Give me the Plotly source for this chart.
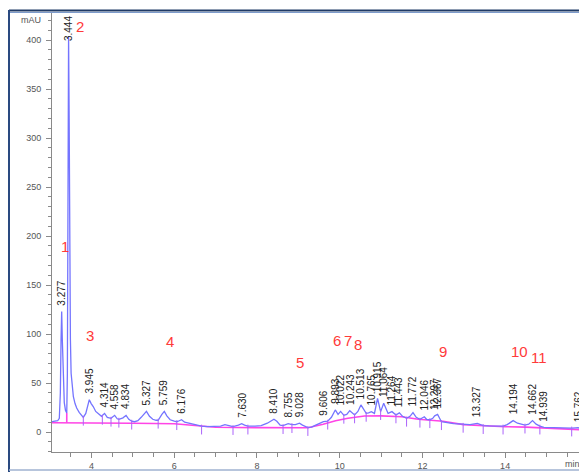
import plotly.graph_objects as go

# ---- chromatogram trace (min, mAU) ----
time_min = [3.043, 3.12, 3.18, 3.22, 3.245, 3.262, 3.277, 3.292, 3.315, 3.34, 3.37, 3.40,
            3.415, 3.43, 3.444, 3.458, 3.472, 3.488, 3.505, 3.53, 3.56, 3.60, 3.64, 3.70,
            3.76, 3.80, 3.86, 3.90, 3.945, 3.99, 4.04, 4.10, 4.16, 4.24, 4.314, 4.38,
            4.47, 4.558, 4.62, 4.66, 4.76, 4.834, 4.90, 4.97, 5.04, 5.12, 5.20, 5.27,
            5.327, 5.40, 5.48, 5.56, 5.61, 5.70, 5.759, 5.82, 5.90, 6.00, 6.06, 6.12,
            6.176, 6.25, 6.35, 6.50, 6.66, 6.80, 7.00, 7.12, 7.225, 7.32, 7.42, 7.55,
            7.63, 7.70, 7.78, 7.95, 8.10, 8.25, 8.35, 8.41, 8.48, 8.56, 8.63, 8.70,
            8.755, 8.845, 8.93, 9.028, 9.10, 9.23, 9.32, 9.42, 9.52, 9.606, 9.71, 9.80,
            9.893, 9.96, 10.022, 10.10, 10.17, 10.243, 10.36, 10.44, 10.513, 10.64, 10.70,
            10.765, 10.84, 10.915, 10.99, 11.064, 11.17, 11.264, 11.36, 11.443, 11.52,
            11.617, 11.70, 11.772, 11.85, 11.94, 12.046, 12.10, 12.18, 12.25, 12.297,
            12.367, 12.46, 12.58, 12.75, 12.87, 12.985, 13.15, 13.327, 13.47, 13.60,
            13.80, 13.95, 14.05, 14.194, 14.30, 14.48, 14.57, 14.662, 14.75, 14.84,
            14.939, 15.05, 15.25, 15.48, 15.61, 15.70, 15.762, 15.85, 15.98]
absorb_mAU = [10.5, 10.8, 11.5, 14, 40, 95, 123, 95, 50, 30, 22, 19.5,
              60, 300, 404, 320, 180, 95, 60, 45, 36, 29, 24.5, 20,
              16.5, 15, 19, 27, 33, 29, 26, 21, 18.5, 16, 19, 15,
              14, 17, 13.5, 13, 14.5, 17, 13, 11, 10.5, 11.5, 15, 19,
              21, 16, 13, 12, 12, 18, 21, 16.5, 12.5, 11, 10.5, 11.5,
              12.5, 10, 9, 7.5, 6, 5.5, 5.5, 6, 7.6, 6.5, 5.5, 7,
              8.5, 7, 6, 6, 6.5, 9, 12, 13, 11, 7, 6.5, 7.5,
              8.5, 7.5, 7.5, 9, 7, 4.5, 5, 7, 8.5, 10.5, 11, 15,
              22.5, 18, 21, 17, 18, 21.8, 17.4, 21, 27.6, 19, 19.5,
              20.8, 19, 34.4, 20.8, 29.3, 19, 20.8, 17.4, 19.5, 16,
              14, 16, 19.8, 15, 13, 15.6, 13, 12.5, 14, 16.5,
              18, 10.5, 9.5, 8.5, 8.2, 7.8, 7.6, 8.8, 6.5, 6.2,
              6, 6, 7.5, 11.6, 9, 7, 8, 11.6, 8, 6,
              4.8, 4.6, 4.2, 3.8, 4, 4.2, 4.4, 3.4, 2.8]

# ---- integration baseline (pink) ----
base_time = [3.043, 3.40, 5.0, 6.0, 6.5, 6.8, 7.0, 8.0, 9.0, 9.23, 9.6, 9.9, 10.2,
             10.6, 11.0, 11.5, 11.9, 12.5, 12.99, 13.5, 14.0, 14.5, 15.0, 15.5, 15.98]
base_mAU = [9.5, 9.5, 9.0, 8.5, 7.0, 5.5, 4.8, 4.5, 4.5, 4.3, 8.0, 11.5, 14.0,
            16.4, 16.5, 15.6, 13.0, 11.0, 7.5, 6.2, 5.4, 5.0, 4.0, 3.0, 2.0]

# drop line from baseline to the valley between peaks 1 and 2
drop_time = [3.40, 3.40]
drop_mAU = [9.5, 19.5]

# ---- peak retention-time labels ----
peak_rt = [3.277, 3.444, 3.945, 4.314, 4.558, 4.834, 5.327, 5.759, 6.176, 7.630,
           8.410, 8.755, 9.028, 9.606, 9.893, 10.022, 10.243, 10.513, 10.765, 10.915,
           11.064, 11.264, 11.443, 11.772, 12.046, 12.297, 12.367, 13.327, 14.194,
           14.662, 14.939, 15.762]
peak_height = [123, 404, 33, 19, 17, 17, 21, 21, 12.5, 8.5,
               13, 8.5, 9, 10.5, 22.5, 21, 21.8, 27.6, 20.8, 34.4,
               29.3, 20.8, 19.5, 19.8, 15.6, 16.5, 18, 8.8, 11.6,
               11.6, 4.8, 4.4]
peak_text = ["3.277", "3.444", "3.945", "4.314", "4.558", "4.834", "5.327", "5.759",
             "6.176", "7.630", "8.410", "8.755", "9.028", "9.606", "9.893", "10.022",
             "10.243", "10.513", "10.765", "10.915", "11.064", "11.264", "11.443",
             "11.772", "12.046", "12.297", "12.367", "13.327", "14.194", "14.662",
             "14.939", "15.762"]

# ---- integration event marks (valleys) ----
mark_time = [3.80, 4.26, 4.47, 4.66, 4.97, 5.61, 6.06, 6.66, 7.42, 7.78, 8.63, 8.845,
             9.23, 9.71, 10.10, 10.36, 10.64, 10.99, 11.36, 11.617, 11.94, 12.18,
             12.46, 12.985, 13.47, 13.95, 14.48, 14.84, 15.61]
mark_mAU = [15, 16, 14, 13, 11, 12, 10.5, 6, 5.5, 6, 6.5, 7.5,
            4.5, 11, 17, 17.4, 19, 20.8, 17.4, 14, 13, 12.5,
            10.5, 7.8, 6.5, 6, 7, 6, 4]

# ---- red peak numbers (hand annotations) ----
num_text = ["1", "2", "3", "4", "5", "6", "7", "8", "9", "10", "11"]
num_time = [3.357, 3.72, 3.962, 5.895, 9.038, 9.93, 10.198, 10.44, 12.495, 14.355, 14.815]
num_mAU = [189, 414, 98, 92, 71, 93, 93, 89, 82, 82, 76.5]

X_RANGE = [3.043, 15.98]
Y_RANGE = [-20.4, 427.6]

# the page body adds an 8px margin; the figure is sized to fit the window
BODY = 8
FIG_W, FIG_H = 587 - BODY, 472 - BODY

fig = go.Figure()
fig.add_trace(go.Scatter(x=base_time, y=base_mAU, mode="lines",
                         line=dict(color="#ff44e6", width=1.6), hoverinfo="skip"))
fig.add_trace(go.Scatter(x=drop_time, y=drop_mAU, mode="lines",
                         line=dict(color="#ff44e6", width=1.6), hoverinfo="skip"))
fig.add_trace(go.Scatter(x=time_min, y=absorb_mAU, mode="lines",
                         line=dict(color="#7474ff", width=1.3)))
fig.add_trace(go.Scatter(x=mark_time, y=[v - 3.5 for v in mark_mAU], mode="markers",
                         marker=dict(symbol="line-ns-open", size=7,
                                     line=dict(color="#222222", width=1)),
                         hoverinfo="skip"))

annotations = []
for rt, h, txt in zip(peak_rt, peak_height, peak_text):
    if h > 300:
        annotations.append(dict(x=rt, y=Y_RANGE[1], xref="x", yref="y", text=txt,
                                textangle=-90, showarrow=False, xanchor="center",
                                yanchor="top", yshift=-1,
                                font=dict(family="Liberation Sans", size=10, color="#222")))
    else:
        annotations.append(dict(x=rt, y=h, xref="x", yref="y", text=txt,
                                textangle=-90, showarrow=False, xanchor="center",
                                yanchor="bottom", yshift=4,
                                font=dict(family="Liberation Sans", size=10, color="#222")))
for t, v, txt in zip(num_time, num_mAU, num_text):
    annotations.append(dict(x=t, y=v, xref="x", yref="y", text=txt, showarrow=False,
                            font=dict(family="Liberation Sans Narrow, Arial Narrow, Liberation Sans",
                                      size=15, color="#ff3a3a")))
annotations.append(dict(x=0, y=420, xref="paper", yref="y", text="mAU", showarrow=False,
                        xanchor="right", xshift=-9,
                        font=dict(family="Liberation Sans", size=9, color="#555")))
annotations.append(dict(x=1, y=0, xref="paper", yref="paper", text="min", showarrow=False,
                        xanchor="right", yanchor="top", xshift=-5, yshift=-5,
                        font=dict(family="Liberation Sans", size=9, color="#555")))

# frame around the picture (page px -> paper coords of the plot area)
PL, PW, PB, PH = 52, 535, 452, 439
def px(xp):
    return (xp - PL) / PW
def py(yp):
    return (PB - yp) / PH

shapes = [
    dict(type="line", xref="paper", yref="paper", x0=px(9), x1=px(587), y0=py(10.5), y1=py(10.5),
         line=dict(color="#1f3a66", width=2)),
    dict(type="line", xref="paper", yref="paper", x0=px(9), x1=px(587), y0=py(12.5), y1=py(12.5),
         line=dict(color="#7d9bcc", width=1)),
    dict(type="line", xref="paper", yref="paper", x0=px(9), x1=px(9), y0=py(10), y1=py(472),
         line=dict(color="#2a4a80", width=2)),
    dict(type="line", xref="paper", yref="paper", x0=px(586), x1=px(586), y0=py(12), y1=py(472),
         line=dict(color="#d8d8d8", width=1)),
    dict(type="line", xref="paper", yref="paper", x0=px(9), x1=px(587), y0=py(470), y1=py(470),
         line=dict(color="#9fb2d0", width=1.5)),
]

axis_font = dict(family="Liberation Sans", size=9, color="#555")
fig.update_layout(
    width=FIG_W, height=FIG_H, autosize=False,
    margin=dict(l=PL - BODY, r=0, t=13 - BODY, b=472 - PB, pad=0),
    paper_bgcolor="white", plot_bgcolor="white",
    showlegend=False,
    annotations=annotations,
    shapes=shapes,
    xaxis=dict(range=X_RANGE, showgrid=False, zeroline=False, showline=True,
               linecolor="#8a8a8a", linewidth=1, ticks="outside", ticklen=5,
               tickcolor="#8a8a8a", tick0=0, dtick=2, tickfont=axis_font,
               minor=dict(dtick=0.5, tick0=0, ticks="outside", ticklen=4, tickcolor="#8a8a8a",
                          showgrid=False)),
    yaxis=dict(range=Y_RANGE, showgrid=False, zeroline=False, showline=True,
               linecolor="#8a8a8a", linewidth=1, ticks="outside", ticklen=5,
               tickcolor="#8a8a8a", tick0=0, dtick=50, tickfont=axis_font,
               ticklabelstandoff=3,
               minor=dict(dtick=10, tick0=0, ticks="outside", ticklen=3, tickcolor="#8a8a8a",
                          showgrid=False)),
)

fig.write_html("out.html")
